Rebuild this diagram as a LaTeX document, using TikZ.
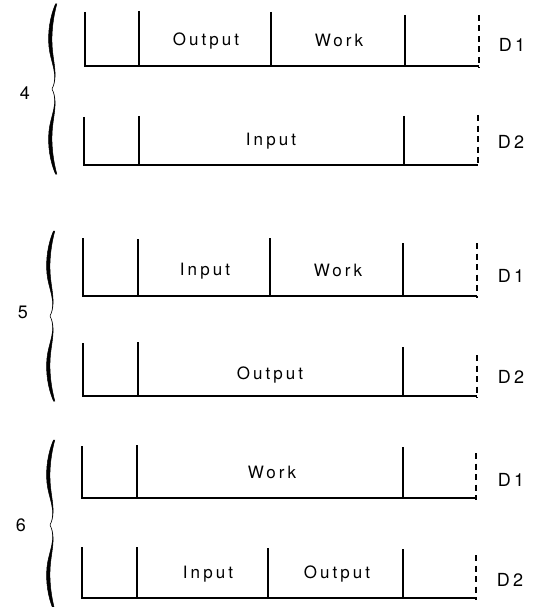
\documentclass[tikz,border=0pt]{standalone}
\usepackage{fontspec}
\setmainfont{TeX Gyre Heros}
\newfontfamily\lblfont[LetterSpace=18]{TeX Gyre Heros}
\begin{document}
\begin{tikzpicture}[x=1pt,y=-1pt,
  solidline/.style={line width=1.1pt,line cap=butt},
  baseln/.style={line width=1.3pt},
  dashln/.style={line width=1.2pt,dash pattern=on 6pt off 4.5pt},
  lbl/.style={font=\lblfont\fontsize{17}{17}\selectfont,inner sep=0pt,text height=12.2pt,text depth=0pt,anchor=center},
  dlbl/.style={font=\lblfont\fontsize{18}{18}\selectfont,inner sep=0pt,text height=13pt,text depth=0pt,anchor=center},
  num/.style={font=\fontsize{18}{18}\selectfont,inner sep=0pt,text height=13pt,text depth=0pt,anchor=center},
  bracefill/.style={fill=black,draw=black,line width=0.5pt}
]
\useasboundingbox (0,0) rectangle (540,607);

% ---------- brace half shape (upper half), reused mirrored ----------
\def\bracehalf{(3.5,-85) .. controls (-2.2,-72) and (-4.4,-56) .. (-3,-42) .. controls (-1.6,-27) and (7,-14) .. (0,0)
  .. controls (6.4,-12) and (1.2,-26) .. (0.2,-42) .. controls (-0.8,-56) and (1.2,-72) .. (4.8,-85) -- cycle}

% ---------- group 4 ----------
\begin{scope}[shift={(52,89)}]
  \fill[bracefill] \bracehalf;
  \begin{scope}[yscale=-1] \fill[bracefill] \bracehalf; \end{scope}
\end{scope}
\node[num] (n4) at (25,93) {4};

% D1 row
\draw[baseln] (85,12) -- (85,66) -- (479,66);
\draw[solidline] (139,11) -- (139,66);
\draw[solidline] (271,12) -- (271,66);
\draw[solidline] (405,15) -- (405,66);
\draw[dashln] (479,15) -- (479,68);
\node[lbl] (a1) at (206,39) {Output};
\node[lbl] (a2) at (339,40) {Work};
\node[dlbl] (a3) at (512,45) {D1};

% D2 row
\draw[baseln] (84,117) -- (84,165) -- (478,165);
\draw[solidline] (139,116) -- (139,165);
\draw[solidline] (404,116) -- (404,165);
\draw[dashln] (478,115) -- (478,165);
\node[lbl] (b1) at (271,139) {Input};
\node[dlbl] (b2) at (511,142) {D2};

% ---------- group 5 ----------
\begin{scope}[shift={(50,316)}]
  \fill[bracefill] \bracehalf;
  \begin{scope}[yscale=-1] \fill[bracefill] \bracehalf; \end{scope}
\end{scope}
\node[num] (n5) at (23,312) {5};

% D1 row
\draw[baseln] (83,238) -- (83,296) -- (477,296);
\draw[solidline] (138,239) -- (138,296);
\draw[solidline] (270,238) -- (270,296);
\draw[solidline] (403,243) -- (403,296);
\draw[dashln] (477,243) -- (477,298);
\node[lbl] (c1) at (205,269) {Input};
\node[lbl] (c2) at (338,270) {Work};
\node[dlbl] (c3) at (511,276) {D1};

% D2 row
\draw[baseln] (83,343) -- (83,396) -- (477,396);
\draw[solidline] (138,342) -- (138,396);
\draw[solidline] (403,347) -- (403,396);
\draw[dashln] (477,355) -- (477,398);
\node[lbl] (d1) at (270,373) {Output};
\node[dlbl] (d2) at (511,377) {D2};

% ---------- group 6 ----------
\begin{scope}[shift={(50,525)}]
  \fill[bracefill] \bracehalf;
  \begin{scope}[yscale=-1] \fill[bracefill] \bracehalf; \end{scope}
\end{scope}
\node[num] (n6) at (21,525) {6};

% D1 row
\draw[baseln] (82,446) -- (82,498) -- (476,498);
\draw[solidline] (137,445) -- (137,498);
\draw[solidline] (403,447) -- (403,498);
\draw[dashln] (476,453) -- (476,500);
\node[lbl] (e1) at (272,472) {Work};
\node[dlbl] (e2) at (511,480) {D1};

% D2 row
\draw[baseln] (82,547) -- (82,598) -- (476,598);
\draw[solidline] (137,547) -- (137,598);
\draw[solidline] (268,548) -- (268,598);
\draw[solidline] (403,549) -- (403,598);
\draw[dashln] (476,555) -- (476,600);
\node[lbl] (f1) at (208,572) {Input};
\node[lbl] (f2) at (337,572) {Output};
\node[dlbl] (f3) at (510,580) {D2};
\end{tikzpicture}
\end{document}
